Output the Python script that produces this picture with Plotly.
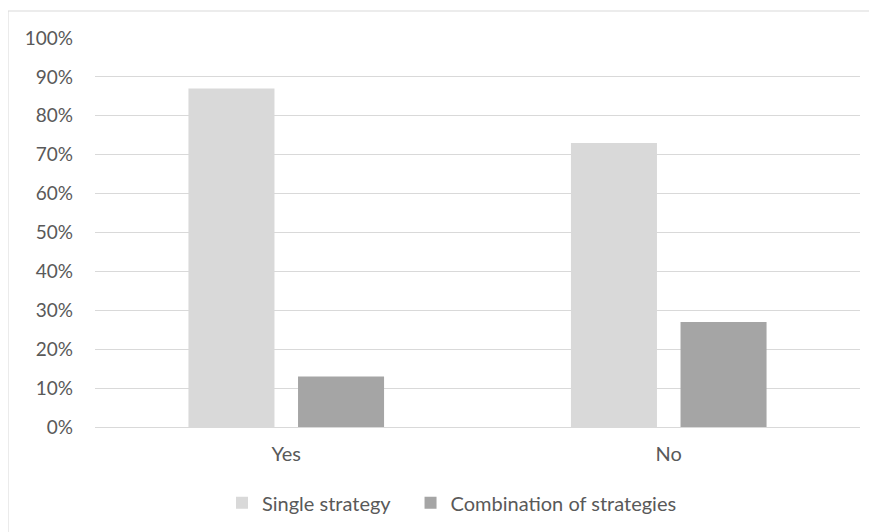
import plotly.graph_objects as go

categories = ["Yes", "No"]
single_strategy = [0.87, 0.73]
combination = [0.13, 0.27]
y_ticks = [i / 10 for i in range(11)]
y_tick_labels = [f"{i*10}%" for i in range(11)]

fig = go.Figure()
fig.add_trace(go.Bar(x=categories, y=single_strategy, name="Single strategy\u00a0\u00a0\u00a0",
                     marker=dict(color="#d9d9d9", line=dict(width=0))))
fig.add_trace(go.Bar(x=categories, y=combination, name="Combination of strategies",
                     marker=dict(color="#a5a5a5", line=dict(width=0))))

fig.update_layout(
    width=869, height=524,
    margin=dict(l=87, r=17, t=30, b=105, autoexpand=False),
    paper_bgcolor="white", plot_bgcolor="white",
    font=dict(family="Lato", size=19, color="#595959"),
    barmode="group", bargap=0.427, bargroupgap=0.215,
    showlegend=True,
    legend=dict(orientation="h", x=0.166, xanchor="left", y=-0.195, yanchor="middle",
                font=dict(size=20, color="#595959"), itemwidth=30,
                traceorder="normal"),
    xaxis=dict(showgrid=False, showline=True, linecolor="#d9d9d9", linewidth=1,
               ticks="", tickfont=dict(size=20), ticklabelstandoff=9),
    yaxis=dict(range=[0, 1.0], tickvals=y_ticks, ticktext=y_tick_labels,
               showgrid=True, gridcolor="#d9d9d9", gridwidth=1,
               zeroline=False, showline=False, ticks="", ticklabelstandoff=21,
               tickfont=dict(size=19)),
    shapes=[dict(type="rect", xref="paper", yref="paper",
                 x0=-0.1137, x1=1.05, y0=-0.4, y1=1.0694,
                 line=dict(color="#d9d9d9", width=1), fillcolor="rgba(0,0,0,0)",
                 layer="below")],
)

fig.write_html("out.html")
